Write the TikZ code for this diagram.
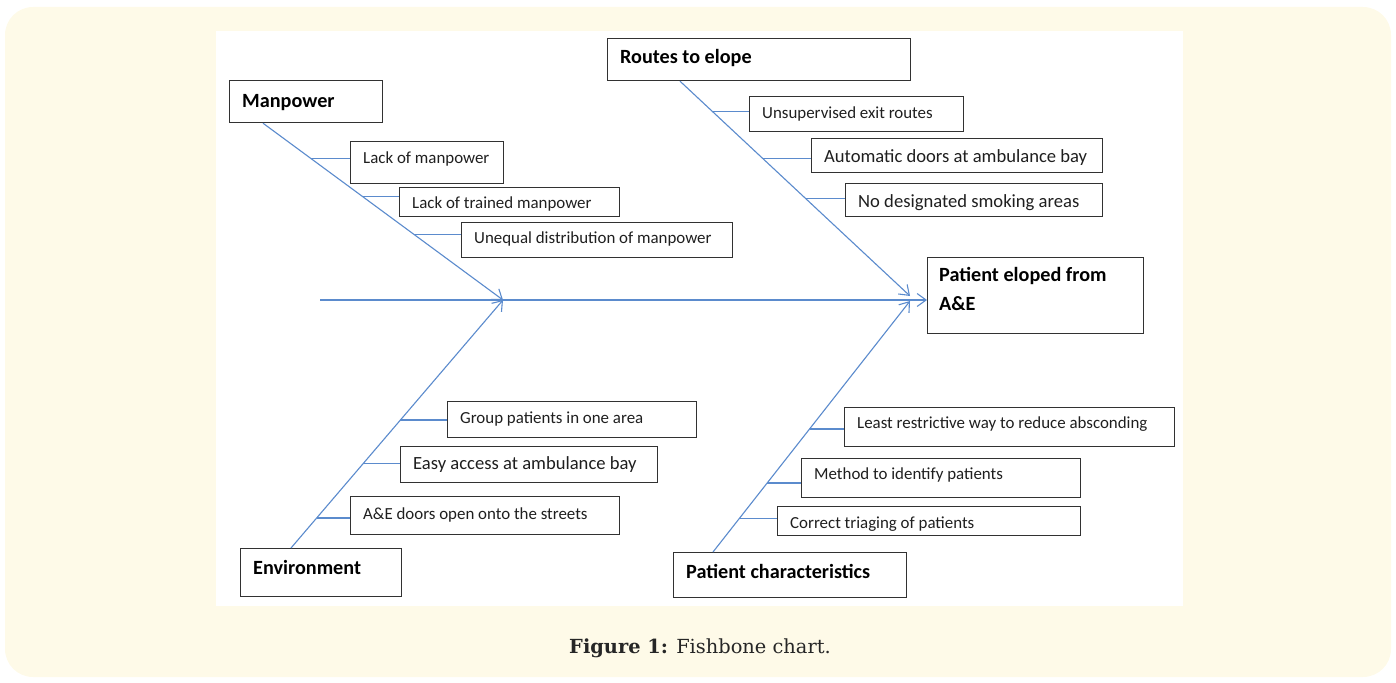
\documentclass[tikz,border=0pt]{standalone}
\usepackage{fontspec}
\setmainfont{Carlito}
\newfontfamily\capfont{DejaVu Serif}
\usetikzlibrary{arrows.meta,calc}
\definecolor{cream}{RGB}{254,250,232}
\definecolor{boneblue}{RGB}{91,139,205}
\definecolor{boxline}{RGB}{50,50,50}
\tikzset{
  box/.style={draw=boxline, line width=1.2pt, fill=white, inner sep=0pt, rectangle},
  sub/.style={inner sep=0pt, font=\fontsize{16.9}{20}\selectfont, text=black!88},
  subL/.style={inner sep=0pt, font=\fontsize{18.6}{22}\selectfont, text=black!88},
  head/.style={inner sep=0pt, font=\fontsize{20.2}{24}\selectfont\bfseries, text=black},
  bone/.style={draw=boneblue, line width=1.1pt},
  arr/.style={-{Straight Barb[length=9pt,width=13pt]}}
}
% name, x1, y1, x2, y2, baseline, text, textstyle
\newcommand{\fbx}[8]{%
  \node[box, minimum width={(#4-#2)*1pt}, minimum height={(#5-#3)*1pt}, anchor=north west] (#1) at (#2,#3) {};
  \node[#8, anchor=base west] (#1t) at (#2+13,#6) {#7};}
\begin{document}
\begin{tikzpicture}[x=1pt,y=-1pt]
\useasboundingbox (0,0) rectangle (1396,682);
\fill[cream, rounded corners=28pt] (5,7) rectangle (1391,677);
\fill[white] (216,31) rectangle (1183,606);

% category boxes
\fbx{mp}{229}{80}{382}{122}{107}{Manpower}{head}
\fbx{re}{607}{38}{910}{80}{64}{Routes to elope}{head}
\fbx{en}{240}{548}{401}{596}{574}{Environment}{head}
\fbx{pc}{673}{552}{906}{597}{578}{Patient characteristics}{head}
\node[box, minimum width=216pt, minimum height=76pt, anchor=north west] (pe) at (927,257) {};
\node[head, anchor=base west] (pet1) at (939,281) {Patient eloped from};
\node[head, anchor=base west] (pet2) at (939,310) {A\&E};

% cause boxes
\fbx{m1}{350}{141}{503}{183}{163}{Lack of manpower}{sub}
\fbx{m2}{399}{187}{619}{216}{208}{Lack of trained manpower}{sub}
\fbx{m3}{461}{222}{732}{257}{243}{Unequal distribution of manpower}{sub}
\fbx{r1}{749}{96}{963}{131}{118}{Unsupervised exit routes}{sub}
\fbx{r2}{811}{138}{1102}{172}{162}{Automatic doors at ambulance bay}{subL}
\fbx{r3}{845}{183}{1102}{216}{207}{No designated smoking areas}{subL}
\fbx{e1}{447}{401}{696}{437}{423}{Group patients in one area}{sub}
\fbx{e2}{400}{446}{657}{482}{469}{Easy access at ambulance bay}{subL}
\fbx{e3}{350}{496}{619}{534}{519}{A\&E doors open onto the streets}{sub}
\fbx{p1}{844}{407}{1174}{446}{428}{Least restrictive way to reduce absconding}{sub}
\fbx{p2}{801}{458}{1080}{497}{479}{Method to identify patients}{sub}
\fbx{p3}{777}{506}{1080}{535}{528}{Correct triaging of patients}{sub}

% spine and junctions
\coordinate (sp) at (320,300);
\coordinate (jl) at (503,300);
\coordinate (jr1) at (910,296);
\coordinate (jr2) at (910,301);
\coordinate (mpS) at ([xshift=34pt]mp.south west);
\coordinate (reS) at ([xshift=73pt]re.south west);
\coordinate (enS) at ([xshift=51pt]en.north west);
\coordinate (pcS) at ([xshift=40pt]pc.north west);

\draw[bone, arr] (sp) -- (sp -| pe.west);
\draw[bone, arr] (mpS) -- (jl);
\draw[bone, arr] (enS) -- (jl);
\draw[bone, arr] (reS) -- (jr1);
\draw[bone, arr] (pcS) -- (jr2);

% branches
\coordinate (bm1) at ($(mpS)!0.202!(jl)$);
\coordinate (bm2) at ($(mpS)!0.416!(jl)$);
\coordinate (bm3) at ($(mpS)!0.629!(jl)$);
\draw[bone] (bm1) -- (bm1 -| m1.west);
\draw[bone] (bm2) -- (bm2 -| m2.west);
\draw[bone] (bm3) -- (bm3 -| m3.west);

\coordinate (br1) at ($(reS)!0.139!(jr1)$);
\coordinate (br2) at ($(reS)!0.361!(jr1)$);
\coordinate (br3) at ($(reS)!0.546!(jr1)$);
\draw[bone] (br1) -- (br1 -| r1.west);
\draw[bone] (br2) -- (br2 -| r2.west);
\draw[bone] (br3) -- (br3 -| r3.west);

\coordinate (be1) at ($(enS)!0.516!(jl)$);
\coordinate (be2) at ($(enS)!0.339!(jl)$);
\coordinate (be3) at ($(enS)!0.121!(jl)$);
\draw[bone] (be1) -- (be1 -| e1.west);
\draw[bone] (be2) -- (be2 -| e2.west);
\draw[bone] (be3) -- (be3 -| e3.west);

\coordinate (bp1) at ($(pcS)!0.490!(jr2)$);
\coordinate (bp2) at ($(pcS)!0.275!(jr2)$);
\coordinate (bp3) at ($(pcS)!0.135!(jr2)$);
\draw[bone] (bp1) -- (bp1 -| p1.west);
\draw[bone] (bp2) -- (bp2 -| p2.west);
\draw[bone] (bp3) -- (bp3 -| p3.west);

% caption
\node[anchor=base, inner sep=0pt, font=\capfont\fontsize{19.4}{23}\selectfont, text=black!85] (cap) at (700,653) {\textbf{Figure 1:} Fishbone chart.};
\end{tikzpicture}
\end{document}
